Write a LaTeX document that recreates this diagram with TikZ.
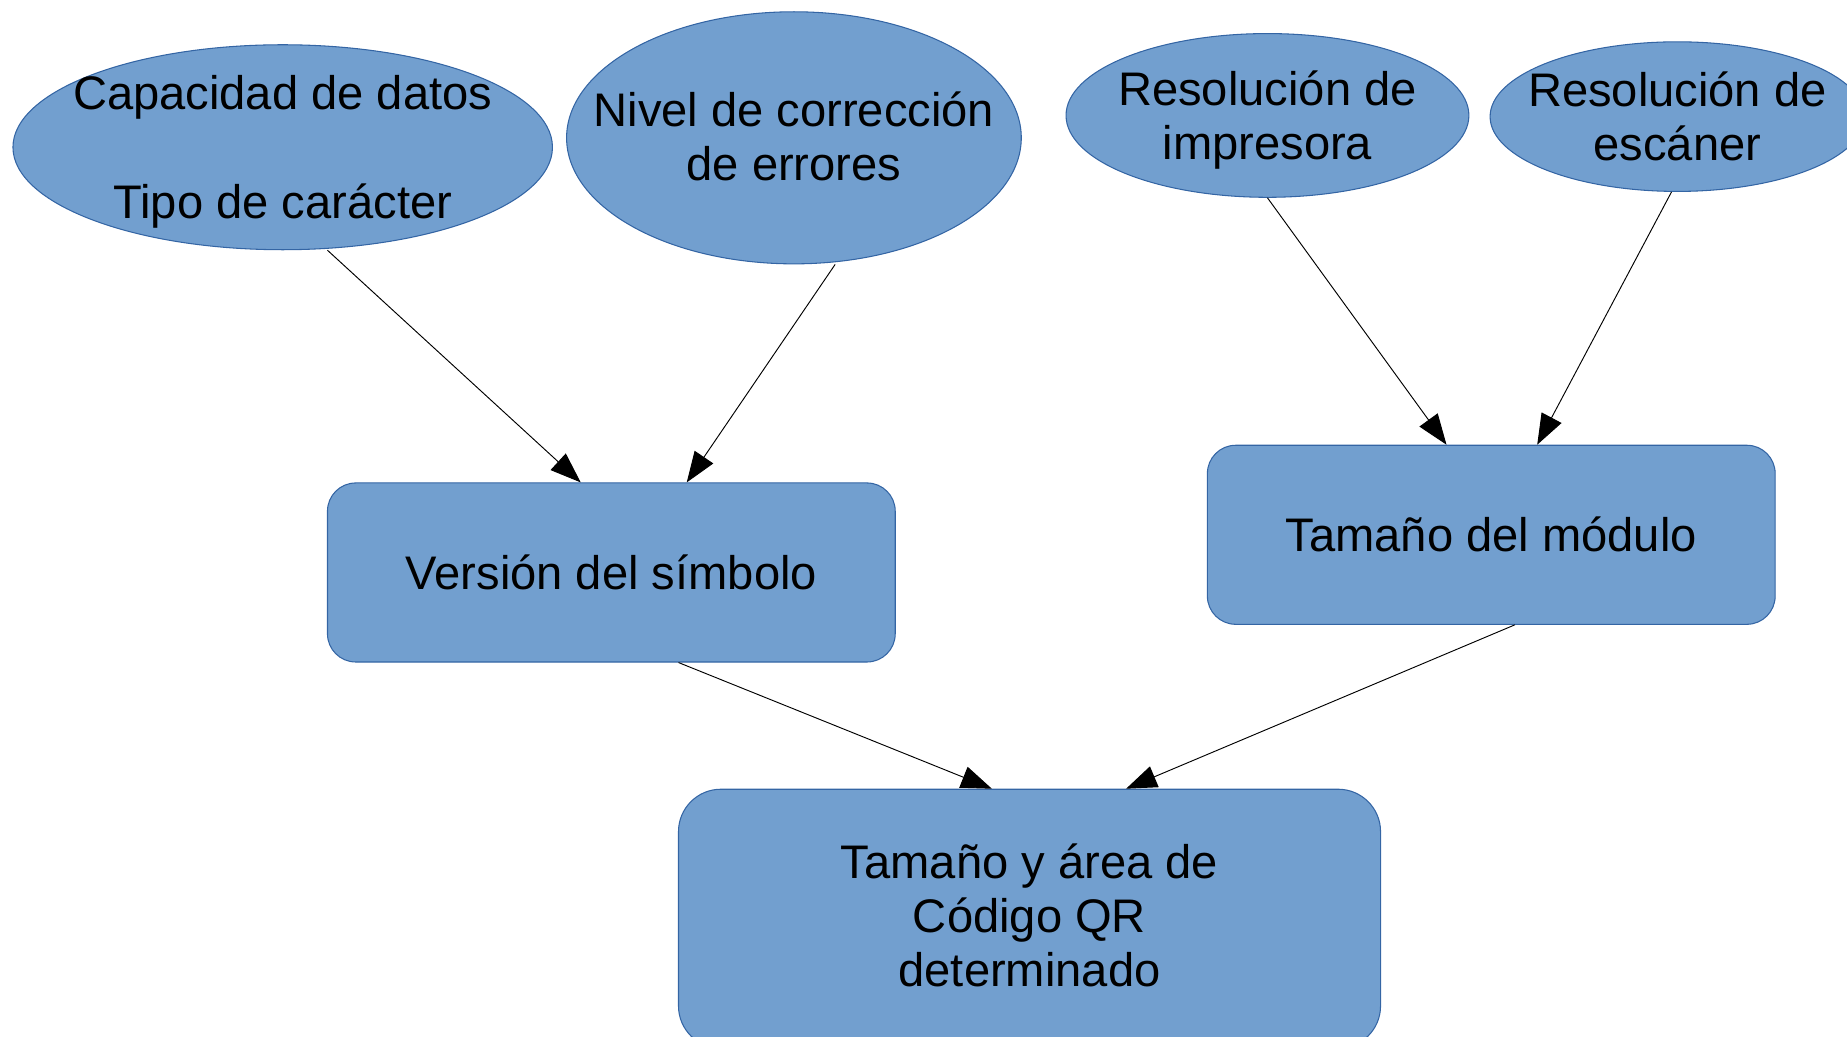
\documentclass[tikz,border=0pt]{standalone}
\usepackage{fontspec}
\setmainfont{Liberation Sans}
\usetikzlibrary{shapes.geometric,arrows.meta}
\definecolor{boxfill}{HTML}{729FCF}
\definecolor{boxline}{HTML}{3465A4}
\tikzset{
  txt/.style={align=center, inner sep=0pt, font=\fontsize{40}{46}\selectfont},
  oval/.style={ellipse, draw=boxline, fill=boxfill, line width=0.9pt, inner sep=0pt},
  rbox/.style={rectangle, rounded corners=24pt, draw=boxline, fill=boxfill, line width=0.9pt, inner sep=0pt},
  conn/.style={line width=0.8pt, -{Triangle[length=26pt,width=19pt]}}
}
\begin{document}
\begin{tikzpicture}[x=1pt,y=-1pt]
\useasboundingbox (0,0) rectangle (1568,880);
\clip (0,0) rectangle (1568,880);
\node[oval, minimum width=458pt, minimum height=174pt,
  label={[txt, yshift=-4pt]center:Capacidad de datos\\[46pt]Tipo de carácter}] (e1) at (240,125) {};
\node[oval, minimum width=386pt, minimum height=214pt,
  label={[txt, yshift=1pt]center:Nivel de corrección\\de errores}] (e2) at (674,117) {};
\node[oval, minimum width=342pt, minimum height=139pt,
  label={[txt, yshift=-4pt]center:Resolución de\\impresora}] (e3) at (1076,98) {};
\node[oval, minimum width=318pt, minimum height=127pt,
  label={[txt]center:Resolución de\\escáner}] (e4) at (1424,99) {};
\node[rbox, minimum width=482pt, minimum height=152pt,
  label={[txt]center:Versión del símbolo}] (r1) at (519,486) {};
\node[rbox, minimum width=482pt, minimum height=152pt,
  label={[txt]center:Tamaño del módulo}] (r2) at (1266,454) {};
\node[rbox, rounded corners=36pt, minimum width=596pt, minimum height=220pt,
  label={[txt, yshift=3pt]center:Tamaño y área de\\Código QR\\determinado}] (r3) at (874,780) {};
\draw[conn] ([xshift=38pt]e1.south) -- ([xshift=-26pt]r1.north);
\draw[conn] ([xshift=35pt]e2.south) -- ([xshift=64pt]r1.north);
\draw[conn] (e3.south) -- ([xshift=-38pt]r2.north);
\draw[conn] ([xshift=-5pt]e4.south) -- ([xshift=39pt]r2.north);
\draw[conn] ([xshift=57pt]r1.south) -- ([xshift=-32pt]r3.north);
\draw[conn] ([xshift=20pt]r2.south) -- ([xshift=82pt]r3.north);
\end{tikzpicture}
\end{document}
